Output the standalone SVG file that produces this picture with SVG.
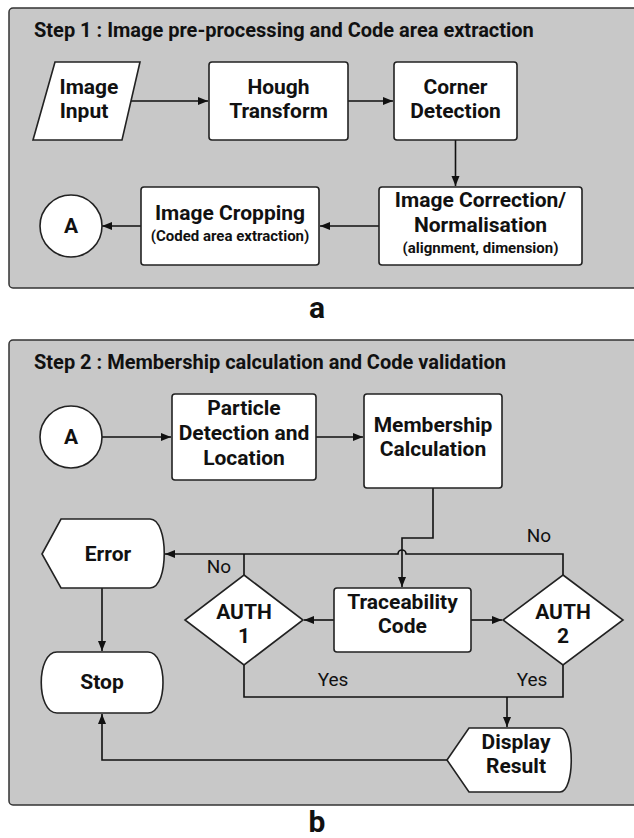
<svg xmlns="http://www.w3.org/2000/svg" width="634" height="838" viewBox="0 0 634 838">
<defs>
<marker id="ah" viewBox="0 0 10 10" refX="10" refY="5" markerWidth="10" markerHeight="10" markerUnits="userSpaceOnUse" orient="auto">
<path d="M0,1 L10,5 L0,9 Z" fill="#111"/>
</marker>
</defs>
<style>
.panel{fill:#c8c8c8;stroke:#333;stroke-width:1.5}
.node{fill:#fff;stroke:#222;stroke-width:1.6}
.t{font-family:Roboto,"Liberation Sans",Arial,sans-serif;font-weight:bold;font-size:21px;fill:#111;text-anchor:middle}
.s{font-family:Roboto,"Liberation Sans",Arial,sans-serif;font-weight:bold;font-size:15px;fill:#111;text-anchor:middle}
.title{font-family:Roboto,"Liberation Sans",Arial,sans-serif;font-weight:bold;font-size:20px;fill:#111}
.lab{font-family:Roboto,"Liberation Sans",Arial,sans-serif;font-size:19px;fill:#111;text-anchor:middle}
.big{font-family:Roboto,"Liberation Sans",Arial,sans-serif;font-weight:bold;font-size:30px;fill:#111;text-anchor:middle}
.c{fill:none;stroke:#111;stroke-width:1.6}
</style>

<rect class="panel" x="9" y="8" width="640" height="280" rx="4"/>
<text class="title" x="34" y="37">Step 1 : Image pre-processing and Code area extraction</text>

<rect class="panel" x="9" y="340" width="640" height="465" rx="4"/>
<text class="title" x="34" y="369">Step 2 : Membership calculation and Code validation</text>

<g id="connectors">
<path class="c" d="M131,101 H208" marker-end="url(#ah)"/>
<path class="c" d="M348,101 H393" marker-end="url(#ah)"/>
<path class="c" d="M455.5,140 V186" marker-end="url(#ah)"/>
<path class="c" d="M379,226 H320" marker-end="url(#ah)"/>
<path class="c" d="M141,226 H102" marker-end="url(#ah)"/>

<path class="c" d="M102,437 H171" marker-end="url(#ah)"/>
<path class="c" d="M316,437 H363" marker-end="url(#ah)"/>
<path class="c" d="M433,488 V538 H402 V587" marker-end="url(#ah)"/>
<path class="c" d="M563,575 V554 H406 A4,4 0 0 0 398,554 H165" marker-end="url(#ah)"/>
<path class="c" d="M244,575 V554"/>
<path class="c" d="M334,620 H304" marker-end="url(#ah)"/>
<path class="c" d="M471,620 H502" marker-end="url(#ah)"/>
<path class="c" d="M244,665 V697 H563 V665"/>
<path class="c" d="M507,697 V727" marker-end="url(#ah)"/>
<path class="c" d="M102,588 V651" marker-end="url(#ah)"/>
<path class="c" d="M447,760 H102 V714" marker-end="url(#ah)"/>
</g>

<g id="image-input">
<path class="node" d="M55,62 H140 L122,140 H33 Z"/>
<text class="t" x="89" y="94">Image</text>
<text class="t" x="84" y="118">Input</text>
</g>
<g id="hough">
<rect class="node" x="209" y="62" width="139" height="78" rx="3"/>
<text class="t" x="278.5" y="94">Hough</text>
<text class="t" x="278.5" y="118">Transform</text>
</g>
<g id="corner">
<rect class="node" x="394" y="62" width="123" height="78" rx="3"/>
<text class="t" x="455.5" y="94">Corner</text>
<text class="t" x="455.5" y="118">Detection</text>
</g>
<g id="correction">
<rect class="node" x="379" y="187" width="203" height="78" rx="3"/>
<text class="t" x="480.5" y="207">Image Correction/</text>
<text class="t" x="480.5" y="232">Normalisation</text>
<text class="s" x="480.5" y="253">(alignment, dimension)</text>
</g>
<g id="cropping">
<rect class="node" x="141" y="187" width="178" height="78" rx="3"/>
<text class="t" x="230" y="220">Image Cropping</text>
<text class="s" x="230" y="241">(Coded area extraction)</text>
</g>
<g id="a1">
<circle class="node" cx="71" cy="226" r="31"/>
<text class="t" x="71" y="233">A</text>
</g>
<text class="big" x="317" y="318">a</text>

<g id="a2">
<circle class="node" cx="71" cy="437" r="31"/>
<text class="t" x="71" y="444">A</text>
</g>
<g id="particle">
<rect class="node" x="172" y="394" width="144" height="86" rx="3"/>
<text class="t" x="244" y="415">Particle</text>
<text class="t" x="244" y="440">Detection and</text>
<text class="t" x="244" y="465">Location</text>
</g>
<g id="membership">
<rect class="node" x="364" y="394" width="138" height="94" rx="3"/>
<text class="t" x="433" y="432">Membership</text>
<text class="t" x="433" y="456">Calculation</text>
</g>
<g id="error">
<path class="node" d="M42,554 L61,519 H150 C169,519 169,588 150,588 H61 Z"/>
<text class="t" x="108" y="561">Error</text>
</g>
<g id="traceability">
<rect class="node" x="334" y="588" width="137" height="64" rx="3"/>
<text class="t" x="402.5" y="609">Traceability</text>
<text class="t" x="402.5" y="633">Code</text>
</g>
<g id="auth1">
<path class="node" d="M244,575 L303,620 L244,665 L185,620 Z"/>
<text class="t" x="244" y="619">AUTH</text>
<text class="t" x="244" y="643">1</text>
</g>
<g id="auth2">
<path class="node" d="M563,575 L623,620 L563,665 L503,620 Z"/>
<text class="t" x="563" y="619">AUTH</text>
<text class="t" x="563" y="643">2</text>
</g>
<g id="stop">
<path class="node" d="M57,652 H148 C168,652 168,713 148,713 H57 C36,713 36,652 57,652 Z"/>
<text class="t" x="102" y="689">Stop</text>
</g>
<g id="display">
<path class="node" d="M447,760 L469,728 H560 C575,728 575,792 560,792 H469 Z"/>
<text class="t" x="516" y="749">Display</text>
<text class="t" x="516" y="773">Result</text>
</g>

<text class="lab" x="219" y="573">No</text>
<text class="lab" x="539" y="542">No</text>
<text class="lab" x="333" y="686">Yes</text>
<text class="lab" x="532" y="686">Yes</text>
<text class="big" x="317" y="832">b</text>
</svg>
